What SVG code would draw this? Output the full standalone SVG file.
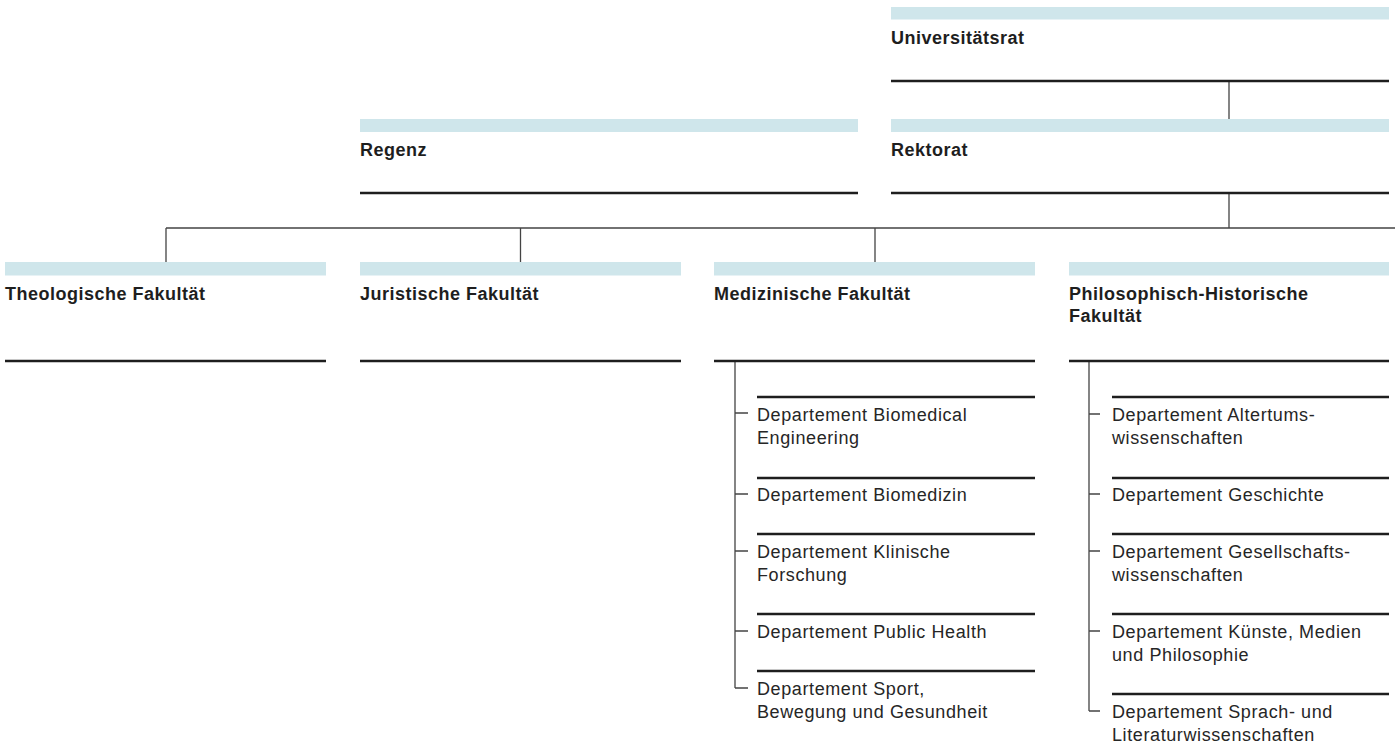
<svg xmlns="http://www.w3.org/2000/svg" width="1395" height="748" viewBox="0 0 1395 748">
<style>
.bar{fill:#cfe6eb}
.rule{stroke:#1e1e1e;stroke-width:2.6;fill:none}
.conn{stroke:#444;stroke-width:1.3;fill:none}
.t{font-family:"Liberation Sans",Arial,sans-serif;font-size:18px;font-weight:bold;fill:#1e1e1e;letter-spacing:0.5px}
.d{font-family:"Liberation Sans",Arial,sans-serif;font-size:18px;fill:#262626;letter-spacing:0.6px}
</style>
<rect width="1395" height="748" fill="#fff"/>
<g id="connectors">
<path class="conn" d="M1229 81V119M1229 193V228M166 228H1395M166 228V262M520.5 228V262M875 228V262"/>
<path class="conn" d="M735 361V688M735 413H748M735 494H748M735 551H748M735 631H748M735 688H748"/>
<path class="conn" d="M1089 361V711M1089 414H1100M1089 494H1100M1089 551H1100M1089 631H1100M1089 711H1100"/>
</g>
<g id="universitaetsrat">
<rect class="bar" x="891" y="7" width="498" height="12.5"/>
<text class="t" x="891" y="44">Universitätsrat</text>
<line class="rule" x1="891" y1="81" x2="1389" y2="81"/>
</g>
<g id="regenz">
<rect class="bar" x="360" y="119" width="498" height="13"/>
<text class="t" x="360" y="156">Regenz</text>
<line class="rule" x1="360" y1="193" x2="858" y2="193"/>
</g>
<g id="rektorat">
<rect class="bar" x="891" y="119" width="498" height="13"/>
<text class="t" x="891" y="156">Rektorat</text>
<line class="rule" x1="891" y1="193" x2="1389" y2="193"/>
</g>
<g id="theologische">
<rect class="bar" x="5" y="262" width="321" height="13.5"/>
<text class="t" x="5" y="300">Theologische Fakultät</text>
<line class="rule" x1="5" y1="361" x2="326" y2="361"/>
</g>
<g id="juristische">
<rect class="bar" x="360" y="262" width="321" height="13.5"/>
<text class="t" x="360" y="300">Juristische Fakultät</text>
<line class="rule" x1="360" y1="361" x2="681" y2="361"/>
</g>
<g id="medizinische">
<rect class="bar" x="714" y="262" width="321" height="13.5"/>
<text class="t" x="714" y="300">Medizinische Fakultät</text>
<line class="rule" x1="714" y1="361" x2="1035" y2="361"/>
</g>
<g id="philosophisch">
<rect class="bar" x="1069" y="262" width="320" height="13.5"/>
<text class="t" x="1069" y="300">Philosophisch-Historische</text>
<text class="t" x="1069" y="322">Fakultät</text>
<line class="rule" x1="1069" y1="361" x2="1389" y2="361"/>
</g>
<g id="med-biomedical-engineering">
<line class="rule" x1="757" y1="397" x2="1035" y2="397"/>
<text class="d" x="757" y="421">Departement Biomedical</text>
<text class="d" x="757" y="444">Engineering</text>
</g>
<g id="med-biomedizin">
<line class="rule" x1="757" y1="478" x2="1035" y2="478"/>
<text class="d" x="757" y="501">Departement Biomedizin</text>
</g>
<g id="med-klinische">
<line class="rule" x1="757" y1="534" x2="1035" y2="534"/>
<text class="d" x="757" y="558">Departement Klinische</text>
<text class="d" x="757" y="581">Forschung</text>
</g>
<g id="med-public-health">
<line class="rule" x1="757" y1="614" x2="1035" y2="614"/>
<text class="d" x="757" y="638">Departement Public Health</text>
</g>
<g id="med-sport">
<line class="rule" x1="757" y1="671" x2="1035" y2="671"/>
<text class="d" x="757" y="695">Departement Sport,</text>
<text class="d" x="757" y="718">Bewegung und Gesundheit</text>
</g>
<g id="phil-altertum">
<line class="rule" x1="1112" y1="397" x2="1389" y2="397"/>
<text class="d" x="1112" y="421">Departement Altertums-</text>
<text class="d" x="1112" y="444">wissenschaften</text>
</g>
<g id="phil-geschichte">
<line class="rule" x1="1112" y1="478" x2="1389" y2="478"/>
<text class="d" x="1112" y="501">Departement Geschichte</text>
</g>
<g id="phil-gesellschaft">
<line class="rule" x1="1112" y1="534" x2="1389" y2="534"/>
<text class="d" x="1112" y="558">Departement Gesellschafts-</text>
<text class="d" x="1112" y="581">wissenschaften</text>
</g>
<g id="phil-kuenste">
<line class="rule" x1="1112" y1="614" x2="1389" y2="614"/>
<text class="d" x="1112" y="638">Departement Künste, Medien</text>
<text class="d" x="1112" y="661">und Philosophie</text>
</g>
<g id="phil-sprach">
<line class="rule" x1="1112" y1="694" x2="1389" y2="694"/>
<text class="d" x="1112" y="718">Departement Sprach- und</text>
<text class="d" x="1112" y="741">Literaturwissenschaften</text>
</g>
</svg>
